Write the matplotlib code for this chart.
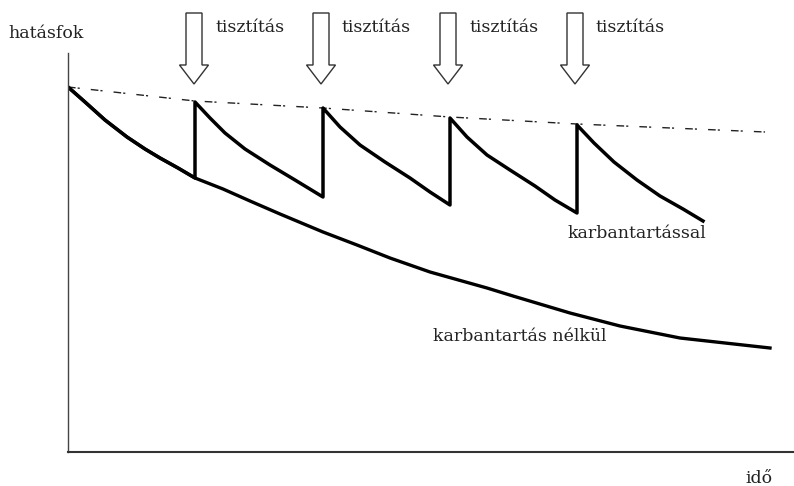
#Imports
import matplotlib
matplotlib.use('Agg')
import matplotlib.pyplot as plt
from matplotlib.patches import FancyArrow

#Data (arbitrary units: time -> right, efficiency -> up)
#Without maintenance
t_plain = [0, 17, 37, 59, 77, 92, 110, 127, 155, 182, 212, 255, 289, 322, 362, 419, 445, 502, 552, 612, 702]
eff_plain = [365, 350, 332, 315, 303, 294, 284, 274, 263, 251, 238, 220, 207, 194, 180, 164, 156, 139, 126, 114, 104]

#With maintenance (saw-tooth, jumps back up at every cleaning)
t_maint = [0, 17, 37, 59, 77, 92, 110, 127,
           127, 142, 157, 177, 202, 227, 255,
           255, 272, 292, 317, 342, 362, 382,
           382, 399, 419, 442, 467, 487, 509,
           509, 526, 546, 569, 592, 615, 635]
eff_maint = [365, 350, 332, 315, 303, 294, 284, 274,
             350, 334, 319, 303, 287, 272, 255,
             344, 325, 307, 290, 274, 260, 247,
             334, 315, 297, 282, 266, 252, 239,
             327, 309, 290, 272, 256, 243, 231]

#Upper envelope (dash-dot)
t_env = [0, 127, 255, 382, 509, 697]
eff_env = [365, 351, 344, 335, 328, 320]

#Cleaning times
t_clean = [126, 253, 380, 507]
clean_label = 'tisztítás'

fig = plt.figure(figsize=(7.94, 4.86), dpi=100)
ax = fig.add_axes([68/794, 34/486, 726/794, 399/486])
ax.set_xlim(0, 726)
ax.set_ylim(0, 399)

ax.plot(t_env, eff_env, color='#222', lw=1, linestyle=(0, (5.5, 1.5, 1.5, 8)))
ax.plot(t_plain, eff_plain, color='black', lw=2.4, solid_joinstyle='round')
ax.plot(t_maint, eff_maint, color='black', lw=2.5, solid_joinstyle='round')

#Hollow arrows + labels for cleaning
for t in t_clean:
    arr = FancyArrow(t, 439, 0, -71, width=16, head_width=29, head_length=19,
                     length_includes_head=True, fill=False, ec='#333', lw=1, clip_on=False)
    ax.add_patch(arr)
    ax.text(t + 21, 420, clean_label, fontsize=12.5, family='DejaVu Serif',
            color='#222', va='baseline', ha='left', clip_on=False)

ax.text(500, 214, 'karbantartással', fontsize=12.5, family='DejaVu Serif',
        color='#222', va='baseline', ha='left')
ax.text(365, 111, 'karbantartás nélkül', fontsize=12.5, family='DejaVu Serif',
        color='#222', va='baseline', ha='left')
ax.text(-60, 414, 'hatásfok', fontsize=12.5, family='DejaVu Serif',
        color='#222', va='baseline', ha='left', clip_on=False)
ax.text(677, -31, 'idő', fontsize=12.5, family='DejaVu Serif',
        color='#222', va='baseline', ha='left', clip_on=False)

#Axes: only left and bottom lines, no ticks
ax.spines['top'].set_visible(False)
ax.spines['right'].set_visible(False)
ax.spines['left'].set_color('#444')
ax.spines['left'].set_linewidth(1)
ax.spines['bottom'].set_color('#333')
ax.spines['bottom'].set_linewidth(1.5)
ax.set_xticks([])
ax.set_yticks([])

fig.savefig('out.png', dpi=100)
